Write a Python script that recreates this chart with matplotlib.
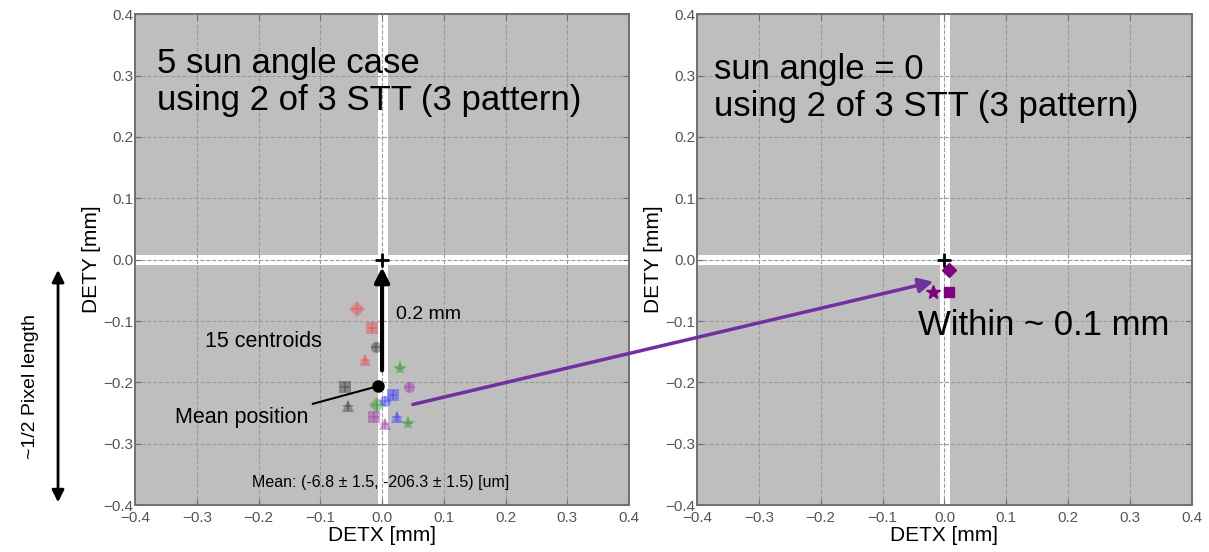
import numpy as np
import matplotlib
matplotlib.use("Agg")
import matplotlib.pyplot as plt
from matplotlib.patches import ConnectionPatch, FancyArrowPatch

plt.rcParams["font.family"] = ["Liberation Sans", "DejaVu Sans"]

# centroid positions [mm], 5 sun angles x 3 STT patterns
cent_x = [-0.040, -0.016, -0.028,
          -0.010, -0.060, -0.055,
          0.029, -0.008, 0.042,
          0.005, 0.017, 0.024,
          0.044, -0.013, 0.004]
cent_y = [-0.081, -0.112, -0.163,
          -0.143, -0.207, -0.239,
          -0.176, -0.237, -0.267,
          -0.231, -0.221, -0.257,
          -0.208, -0.257, -0.268]
cent_err = 0.008
cent_colors = ["#e8504f"] * 3 + ["#404040"] * 3 + ["#2e9a2e"] * 3 + ["#3a3aff"] * 3 + ["#a03aa8"] * 3
cent_markers = ["D", "s", "^", "o", "s", "^", "*", "D", "*", "o", "s", "^", "o", "s", "^"]

# mean position [um]
mean_x_um, mean_y_um = -6.8, -206.3
mean_err_um = 1.5

# sun angle = 0 case [mm]
zero_x = [0.008, -0.019, 0.008]
zero_y = [-0.017, -0.053, -0.0525]
zero_markers = ["D", "*", "s"]

ticks = np.round(np.arange(-0.4, 0.41, 0.1), 1)


def fmt_tick(t):
    if abs(t) < 1e-9:
        return "0.0"
    return f"{t:.1f}".replace("-", "\u2212")


def setup_axes(ax):
    ax.set_facecolor("#bebebe")
    ax.set_xlim(-0.4, 0.4)
    ax.set_ylim(-0.4, 0.4)
    ax.set_xticks(ticks)
    ax.set_yticks(ticks)
    ax.set_xticklabels([fmt_tick(t) for t in ticks])
    ax.set_yticklabels([fmt_tick(t) for t in ticks])
    ax.tick_params(direction="in", length=4, color="#707070", labelcolor="#555555",
                   labelsize=11, top=True, right=True, pad=1)
    ax.tick_params(axis="x", pad=4)
    ax.grid(True, linestyle="--", color="#9a9a9a", linewidth=0.8)
    for sp in ax.spines.values():
        sp.set_color("#707070")
        sp.set_linewidth(1.4)
    # gap between detector pixels
    ax.axvspan(-0.007, 0.009, color="white", lw=0, zorder=1)
    ax.axhspan(-0.008, 0.008, color="white", lw=0, zorder=1)
    ax.plot(0, 0, marker="+", color="black", ms=10, mew=2, zorder=5)
    ax.set_xlabel("DETX [mm]", fontsize=15, labelpad=1)
    ax.set_ylabel("DETY [mm]", fontsize=15, labelpad=2)


fig = plt.figure(figsize=(12.09, 5.52), dpi=100)
ax1 = fig.add_axes([0.1117, 0.0851, 0.4086, 0.889])
ax2 = fig.add_axes([0.5765, 0.0851, 0.4094, 0.889])
setup_axes(ax1)
setup_axes(ax2)

# left: 15 centroids
for x, y, c, m in zip(cent_x, cent_y, cent_colors, cent_markers):
    ax1.errorbar(x, y, xerr=cent_err, yerr=cent_err, fmt=m, color=c, alpha=0.45,
                 ms=8 if m != "*" else 11, mew=0, elinewidth=1.2, capsize=0, zorder=3)

mx, my = mean_x_um / 1000, mean_y_um / 1000
ax1.plot(mx, my, "o", color="black", ms=8, zorder=6)

ax1.annotate("", xy=(0, -0.008), xytext=(0, -0.185),
             arrowprops=dict(arrowstyle="-|>", color="black", lw=3, mutation_scale=22),
             zorder=6)
ax1.text(0.022, -0.089, "0.2 mm", fontsize=14, va="center", ha="left")
ax1.text(-0.287, -0.133, "15 centroids", fontsize=15.5, va="center", ha="left")
ax1.text(-0.336, -0.257, "Mean position", fontsize=15.5, va="center", ha="left")
ax1.plot([-0.112, mx], [-0.235, my], color="black", lw=1.5, zorder=5)
ax1.text(-0.002, -0.363,
         f"Mean: ({mean_x_um} \u00b1 {mean_err_um}, {mean_y_um} \u00b1 {mean_err_um}) [um]",
         fontsize=11.5, ha="center", va="center")
ax1.text(-0.365, 0.347, "5 sun angle case\nusing 2 of 3 STT (3 pattern)",
         fontsize=25, va="top", ha="left", linespacing=1.15)

# right: sun angle = 0
for x, y, m in zip(zero_x, zero_y, zero_markers):
    ax2.plot(x, y, marker=m, color="#800080", ms=7 if m != "*" else 10, ls="none", zorder=4)
ax2.text(-0.372, 0.337, "sun angle = 0\nusing 2 of 3 STT (3 pattern)",
         fontsize=25, va="top", ha="left", linespacing=1.15)
ax2.text(-0.042, -0.107, "Within ~ 0.1 mm", fontsize=25, va="center", ha="left")

# arrow linking the two panels
link = ConnectionPatch(xyA=(0.05, -0.236), coordsA=ax1.transData,
                       xyB=(-0.018, -0.036), coordsB=ax2.transData,
                       arrowstyle="-|>", color="#7030a0", lw=2.5, mutation_scale=22,
                       zorder=10)
fig.add_artist(link)

# pixel length scale on the left
fig.add_artist(FancyArrowPatch((0.048, 0.085), (0.048, 0.516), transform=fig.transFigure,
                               arrowstyle="<|-|>", color="black", lw=2, mutation_scale=18))
fig.text(0.025, 0.30, "~1/2 Pixel length", rotation=90, fontsize=14,
         ha="center", va="center")

fig.savefig("out.png", dpi=100)
